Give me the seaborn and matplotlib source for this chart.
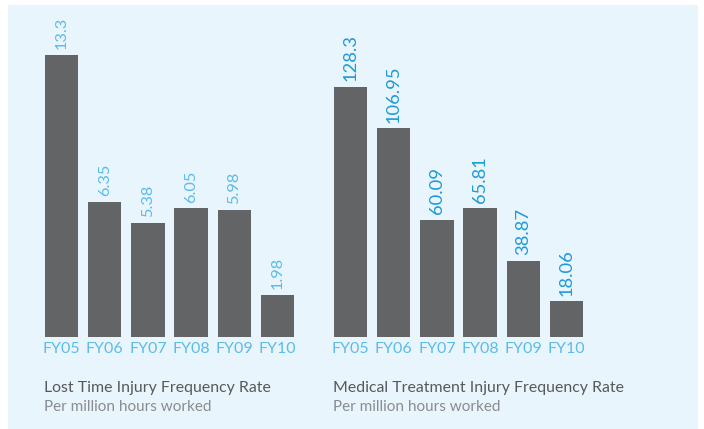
import matplotlib
matplotlib.use("Agg")
import matplotlib.pyplot as plt
import seaborn as sns
import pandas as pd
from matplotlib.patches import Rectangle

categories = ["FY05", "FY06", "FY07", "FY08", "FY09", "FY10"]
ltifr_values = [13.3, 6.35, 5.38, 6.05, 5.98, 1.98]
ltifr_labels = ["13.3", "6.35", "5.38", "6.05", "5.98", "1.98"]
mtifr_values = [128.3, 106.95, 60.09, 65.81, 38.87, 18.06]
mtifr_labels = ["128.3", "106.95", "60.09", "65.81", "38.87", "18.06"]
titles = ["Lost Time Injury Frequency Rate", "Medical Treatment Injury Frequency Rate"]
subtitle = "Per million hours worked"

sns.set_style("white")
plt.rcParams["font.family"] = ["Lato", "DejaVu Sans"]

W, H = 704, 429
fig = plt.figure(figsize=(W / 100, H / 100), dpi=100)
fig.patch.set_facecolor("white")
fig.patches.append(Rectangle((8 / W, 0), (698 - 8) / W, (H - 5) / H,
                             transform=fig.transFigure, facecolor="#e8f5fc",
                             edgecolor="none", zorder=-10))

BAR = "#636466"
TICK_BLUE = "#5bbce8"

def px_axes(left, right, top, bottom):
    ax = fig.add_axes([left / W, (H - bottom) / H, (right - left) / W, (bottom - top) / H])
    ax.set_zorder(5)
    return ax

ax1 = px_axes(40, 299, 10, 336.5)
ax2 = px_axes(329, 588, 10, 336.5)

specs = [
    (ax1, ltifr_values, ltifr_labels, 15.42, "#5bbce8", 11.8),
    (ax2, mtifr_values, mtifr_labels, 167.7, "#1f9ad6", 13.2),
]
for ax, vals, labs, top, lcol, lsize in specs:
    df = pd.DataFrame({"year": categories, "value": vals})
    sns.barplot(data=df, x="year", y="value", color=BAR, width=0.77,
                saturation=1, linewidth=0, ax=ax)
    ax.set_facecolor("none")
    ax.patch.set_alpha(0)
    ax.set_xlim(-0.5, 5.5)
    ax.set_ylim(0, top)
    for s in ax.spines.values():
        s.set_visible(False)
    ax.set_yticks([])
    ax.set_xlabel("")
    ax.set_ylabel("")
    ax.tick_params(axis="x", length=0, pad=4, labelsize=11.5, labelcolor=TICK_BLUE)
    for i, (v, t) in enumerate(zip(vals, labs)):
        ax.annotate(t, (i, v), xytext=(0, 4), textcoords="offset points",
                    rotation=90, ha="center", va="bottom", color=lcol,
                    fontsize=lsize, annotation_clip=False)

for x0, t in zip([44, 333], titles):
    fig.text(x0 / W, 1 - 388 / H, t, ha="left", va="center", fontsize=11.4, color="#58595b")
    fig.text(x0 / W, 1 - 407 / H, subtitle, ha="left", va="center", fontsize=11, color="#8a8c8f")

fig.savefig("out.png", dpi=100, facecolor="white")
